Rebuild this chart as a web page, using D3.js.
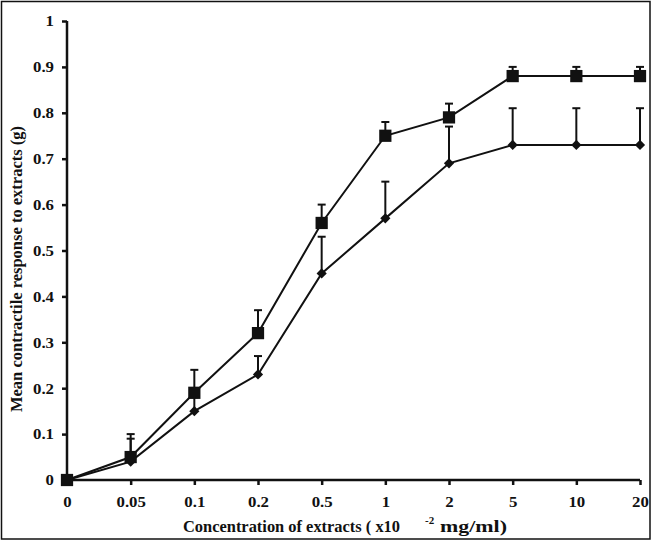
<!DOCTYPE html>
<html>
<head>
<meta charset="utf-8">
<script src="https://cdn.jsdelivr.net/npm/d3@7"></script>
<style>
  body { margin: 0; background: #fff; }
  text { font-family: "Liberation Serif", "Times New Roman", serif; font-weight: bold; fill: #111; }
</style>
</head>
<body>
<script>
// categories on the x axis (x10^-2 mg/ml)
var concs = ["0", "0.05", "0.1", "0.2", "0.5", "1", "2", "5", "10", "20"];
// square series: mean and top of the error bar
var sqMean = [0, 0.05, 0.19, 0.32, 0.56, 0.75, 0.79, 0.88, 0.88, 0.88];
var sqTop  = [0, 0.10, 0.24, 0.37, 0.60, 0.78, 0.82, 0.90, 0.90, 0.90];
// diamond series
var dmMean = [0, 0.04, 0.15, 0.23, 0.45, 0.57, 0.69, 0.73, 0.73, 0.73];
var dmTop  = [0, 0.09, 0.18, 0.27, 0.53, 0.65, 0.77, 0.81, 0.81, 0.81];
var yTicks = [0, 0.1, 0.2, 0.3, 0.4, 0.5, 0.6, 0.7, 0.8, 0.9, 1];

var W = 652, H = 541;
var svg = d3.select("body").append("svg").attr("width", W).attr("height", H);

// the scanned figure has its lettering a bit wider than plain Times
function widen(sel, k) {
    sel.each(function() {
        var w = this.getComputedTextLength();
        d3.select(this).attr("textLength", w * k).attr("lengthAdjust", "spacingAndGlyphs");
    });
}

// frame round the picture
svg.append("rect").attr("x", 1.5).attr("y", 1.5).attr("width", 648.5).attr("height", 537.5)
    .attr("fill", "none").attr("stroke", "#111").attr("stroke-width", 1.5);

var x = d3.scalePoint().domain(concs).range([67, 640]);
var y = d3.scaleLinear().domain([0, 1]).range([480, 21]);

// axes
var yAx = svg.append("g").attr("transform", "translate(67,0)")
    .call(d3.axisLeft(y).tickValues(yTicks).tickSize(5).tickPadding(8).tickFormat(d3.format("~g")));
var xAx = svg.append("g").attr("transform", "translate(0,480)")
    .call(d3.axisBottom(x).tickSize(5).tickPadding(11));
[yAx, xAx].forEach(function(g) {
    g.attr("font-family", null);
    g.select(".domain").attr("stroke", "#111").attr("stroke-width", 2.5);
    g.selectAll(".tick line").attr("stroke", "#111").attr("stroke-width", 2.5);
    g.selectAll("text").style("font-size", "15px").attr("fill", "#111");
    widen(g.selectAll("text"), 1.12);
});
yAx.select(".domain").attr("d", "M0,480V21");
xAx.select(".domain").attr("d", "M67,0H640");

function series(mean, top, shape, size, rot) {
    var pts = concs.map(function(c, i) { return {c: c, m: mean[i], t: top[i]}; });
    // error bars (upper only)
    pts.filter(function(d) { return d.t > d.m; }).forEach(function(d) {
        svg.append("line").attr("x1", x(d.c)).attr("x2", x(d.c))
            .attr("y1", y(d.m)).attr("y2", y(d.t)).attr("stroke", "#111").attr("stroke-width", 2);
        svg.append("line").attr("x1", x(d.c) - 4).attr("x2", x(d.c) + 4)
            .attr("y1", y(d.t)).attr("y2", y(d.t)).attr("stroke", "#111").attr("stroke-width", 2);
    });
    svg.append("path").datum(pts)
        .attr("fill", "none").attr("stroke", "#111").attr("stroke-width", 2)
        .attr("d", d3.line().x(function(d) { return x(d.c); }).y(function(d) { return y(d.m); }));
    svg.selectAll(null).data(pts).enter().append("path")
        .attr("transform", function(d) { return "translate(" + x(d.c) + "," + y(d.m) + ") rotate(" + rot + ")"; })
        .attr("d", d3.symbol().type(shape).size(size))
        .attr("fill", "#111");
}
series(dmMean, dmTop, d3.symbolSquare, 52, 45);
series(sqMean, sqTop, d3.symbolSquare, 150, 0);

// axis titles
svg.append("text").attr("transform", "translate(22,269) rotate(-90)")
    .attr("text-anchor", "middle").style("font-size", "16.5px")
    .text("Mean contractile response to extracts (g)");
svg.append("text").attr("x", 183).attr("y", 532).style("font-size", "17px")
    .attr("textLength", 217).attr("lengthAdjust", "spacingAndGlyphs")
    .text("Concentration of extracts ( x10");
svg.append("text").attr("x", 425).attr("y", 524).style("font-size", "11px").text("-2");
svg.append("text").attr("x", 440).attr("y", 532).style("font-size", "17px")
    .attr("textLength", 67).attr("lengthAdjust", "spacingAndGlyphs")
    .text("mg/ml)");
</script>
</body>
</html>
